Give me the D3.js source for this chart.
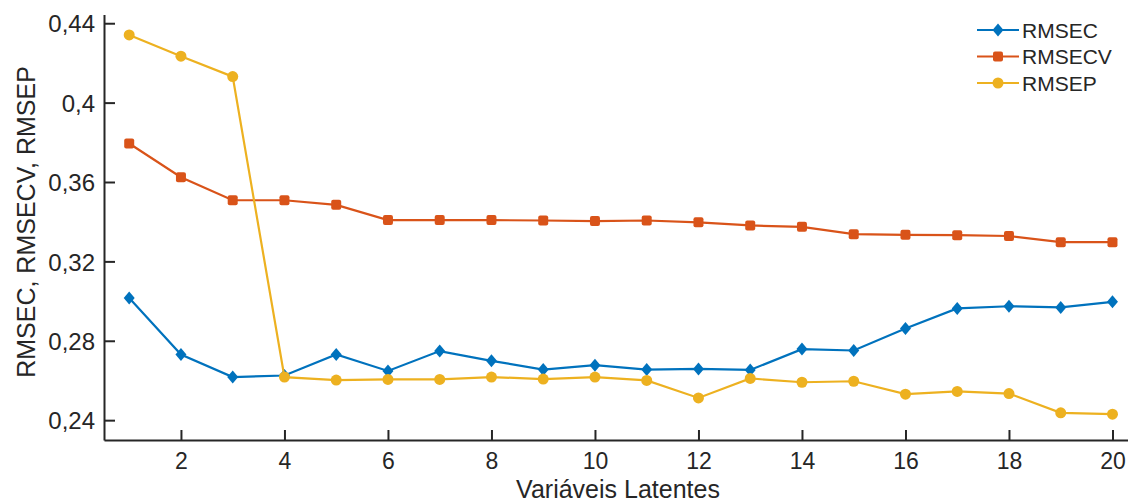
<!DOCTYPE html>
<html>
<head>
<meta charset="utf-8">
<script src="https://cdn.jsdelivr.net/npm/d3@7"></script>
<style>
  body { margin: 0; background: #fff; }
  svg text { font-family: 'Liberation Sans', Arial, Helvetica, sans-serif; fill: #262626; }
</style>
</head>
<body>
<div class="content"></div>
<script>
const w = 1128;
const h = 504;

// data
const latentVars = d3.range(1, 21);
const rmsec = [0.3016, 0.2731, 0.2617, 0.2625, 0.2731, 0.2648, 0.2748, 0.2699, 0.2655, 0.2677,
	0.2655, 0.2658, 0.2653, 0.2758, 0.2751, 0.2862, 0.2963, 0.2974, 0.2968, 0.2996];
const rmsecv = [0.3794, 0.3624, 0.3508, 0.3508, 0.3485, 0.3408, 0.3408, 0.3408, 0.3406, 0.3403,
	0.3406, 0.3397, 0.3381, 0.3374, 0.3337, 0.3334, 0.3332, 0.3328, 0.3297, 0.3297];
const rmsep = [0.4341, 0.4234, 0.4131, 0.2617, 0.2602, 0.2605, 0.2605, 0.2617, 0.2607, 0.2617,
	0.2600, 0.2512, 0.2610, 0.2591, 0.2596, 0.2531, 0.2545, 0.2534, 0.2437, 0.2430];

const seriesNames = ['RMSEC', 'RMSECV', 'RMSEP'];
const seriesColors = ['#0072BD', '#D95319', '#EDB120'];
const seriesMarkers = ['diamond', 'square', 'circle'];

const xTicks = [2, 4, 6, 8, 10, 12, 14, 16, 18, 20];
const yTicks = [0.24, 0.28, 0.32, 0.36, 0.40, 0.44];
const yTickLabels = ['0,24', '0,28', '0,32', '0,36', '0,4', '0,44'];

const series = [rmsec, rmsecv, rmsep].map((vals, i) => ({
	name: seriesNames[i],
	color: seriesColors[i],
	marker: seriesMarkers[i],
	values: vals.map((v, j) => ({ x: latentVars[j], y: v }))
}));

const svg = d3.select('.content').append('svg')
	.attr('width', w)
	.attr('height', h);

const xScale = d3.scaleLinear()
	.domain([0.513, 20.3])
	.range([104, 1128]);

const yScale = d3.scaleLinear()
	.domain([0.23, 0.4444])
	.range([440, 14.5]);

const axisColor = '#262626';

const xAxis = d3.axisBottom(xScale)
	.tickValues(xTicks)
	.tickSize(-10)
	.tickSizeOuter(0)
	.tickFormat(d3.format('d'));

const yAxis = d3.axisLeft(yScale)
	.tickValues(yTicks)
	.tickSize(-11)
	.tickSizeOuter(0)
	.tickPadding(9)
	.tickFormat((d, i) => yTickLabels[i]);

const gx = svg.append('g')
	.attr('transform', 'translate(0,440)')
	.call(xAxis);

const gy = svg.append('g')
	.attr('transform', 'translate(104,0)')
	.call(yAxis);

[gx, gy].forEach((g) => {
	g.select('.domain').attr('stroke', axisColor).attr('stroke-width', 2);
	g.selectAll('.tick line').attr('stroke', axisColor).attr('stroke-width', 2);
	g.selectAll('.tick text')
		.attr('fill', axisColor)
		.style('font-size', '24px');
});

gx.selectAll('.tick text')
	.style('font-size', '23px')
	.attr('y', 29)
	.attr('dy', 0);

gy.selectAll('.tick text')
	.attr('dy', '0.36em');

// axis labels
svg.append('text')
	.attr('x', 618)
	.attr('y', 498)
	.attr('text-anchor', 'middle')
	.style('font-size', '25px')
	.text('Variáveis Latentes');

svg.append('text')
	.attr('transform', 'translate(35,222) rotate(-90)')
	.attr('text-anchor', 'middle')
	.style('font-size', '25px')
	.text('RMSEC, RMSECV, RMSEP');

const line = d3.line()
	.x((d) => xScale(d.x))
	.y((d) => yScale(d.y));

function drawMarker(sel, type, color) {
	if (type === 'diamond') {
		sel.append('path')
			.attr('d', 'M0,-6.5L5.5,0L0,6.5L-5.5,0Z')
			.attr('fill', color);
	} else if (type === 'square') {
		sel.append('rect')
			.attr('x', -5).attr('y', -5)
			.attr('width', 10).attr('height', 10)
			.attr('rx', 2)
			.attr('fill', color);
	} else {
		sel.append('circle')
			.attr('r', 5.5)
			.attr('fill', color);
	}
}

series.forEach((s) => {
	const g = svg.append('g');

	g.append('path')
		.datum(s.values)
		.attr('fill', 'none')
		.attr('stroke', s.color)
		.attr('stroke-width', 2.2)
		.attr('d', line);

	g.selectAll('.pt')
		.data(s.values)
		.enter()
		.append('g')
		.attr('class', 'pt')
		.attr('transform', (d) => 'translate(' + xScale(d.x) + ',' + yScale(d.y) + ')')
		.each(function () { drawMarker(d3.select(this), s.marker, s.color); });
});

// legend
const legend = svg.append('g')
	.attr('transform', 'translate(977,30)');

series.forEach((s, i) => {
	const row = legend.append('g')
		.attr('transform', 'translate(0,' + (i * 26.5) + ')');

	row.append('line')
		.attr('x1', 0).attr('x2', 42)
		.attr('stroke', s.color)
		.attr('stroke-width', 2.2);

	drawMarker(row.append('g').attr('transform', 'translate(21,0)'), s.marker, s.color);

	row.append('text')
		.attr('x', 45)
		.attr('dy', '0.36em')
		.style('font-size', '21px')
		.attr('fill', '#000')
		.text(s.name);
});
</script>
</body>
</html>
